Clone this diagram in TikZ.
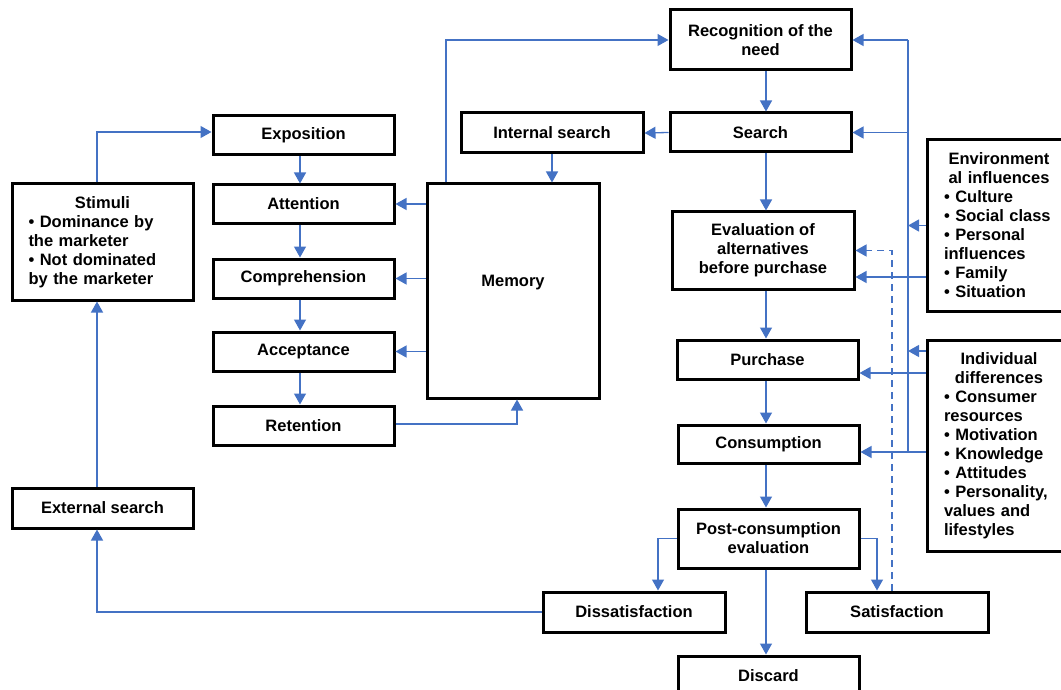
\documentclass[tikz,border=0pt]{standalone}
\usepackage{fontspec}
\setmainfont{Liberation Sans}
\usetikzlibrary{arrows.meta}
\definecolor{flow}{RGB}{68,114,196}
\begin{document}
\begin{tikzpicture}[x=1pt,y=-1pt,
  box/.style={draw=black, line width=3pt, fill=white, inner sep=0pt,
    align=center, font=\bfseries\fontsize{16.5}{19}\selectfont},
  listbox/.style={box, align=left},
  arr/.style={draw=flow, line width=1.3pt, -{Triangle[length=11pt,width=12pt]}},
  link/.style={draw=flow, line width=1.3pt},
  dashlink/.style={arr, dash pattern=on 7pt off 5pt}]
\useasboundingbox (0,0) rectangle (1061,690);

% guide columns for the vertical connectors
\coordinate (colS) at (97,0);
\coordinate (colL) at (300,0);
\coordinate (colM) at (446,0);
\coordinate (colR) at (766,0);
\coordinate (bus)  at (908,0);
\coordinate (dash) at (892,0);

% central decision chain
\node[box, minimum width=181, minimum height=60] (rec) at (760.5,40) {Recognition of the\\need};
\node[box, minimum width=181, minimum height=39] (search) at (760.5,132.5) {Search};
\node[box, minimum width=182, minimum height=77] (evalalt) at (763,250.5) {Evaluation of\\alternatives\\before purchase};
\node[box, minimum width=181, minimum height=39] (purchase) at (767.5,359.5) {Purchase};
\node[box, minimum width=181, minimum height=38] (consump) at (768.5,444) {Consumption};
\node[box, minimum width=181, minimum height=59] (postcons) at (768.5,538.5) {Post-consumption\\evaluation};
\node[box, minimum width=182, minimum height=40] (dissat) at (634,612) {Dissatisfaction};
\node[box, minimum width=182, minimum height=40] (satis) at (897,612) {Satisfaction};
\node[box, minimum width=181, minimum height=40] (discard) at (768.5,676) {Discard};

% information processing
\node[box, minimum width=182, minimum height=40] (intsearch) at (552,133) {Internal search};
\node[box, minimum width=172, minimum height=214] (mem) at (513,291) {};
\node[font=\bfseries\fontsize{16.5}{19}\selectfont, inner sep=0pt] (memtext) at (513,283) {Memory};
\node[box, minimum width=181, minimum height=39] (expo) at (303.5,135.5) {Exposition};
\node[box, minimum width=181, minimum height=38] (atten) at (303.5,204) {Attention};
\node[box, minimum width=181, minimum height=39] (compr) at (303.5,278.5) {Comprehension};
\node[box, minimum width=181, minimum height=39] (accept) at (303.5,351.5) {Acceptance};
\node[box, minimum width=181, minimum height=39] (retent) at (303.5,425.5) {Retention};

% stimuli side
\node[listbox, minimum width=181, minimum height=116, text width=148] (stimuli) at (102.5,242)
  {\makebox[\linewidth][c]{Stimuli}\\
   • Dominance by\\ the marketer\\ • Not dominated\\ by the marketer};
\node[box, minimum width=181, minimum height=40] (extsearch) at (102.5,508) {External search};

% influences
\node[listbox, minimum width=144, minimum height=171, text width=110] (env) at (999,225.5)
  {\makebox[\linewidth][c]{Environment}\\
   \makebox[\linewidth][c]{al influences}\\
   • Culture\\ • Social class\\ • Personal\\ influences\\ • Family\\ • Situation};
\node[listbox, minimum width=144, minimum height=211, text width=110] (indiv) at (999,445.5)
  {\makebox[\linewidth][c]{Individual}\\
   \makebox[\linewidth][c]{differences}\\
   • Consumer\\ resources\\ • Motivation\\ • Knowledge\\ • Attitudes\\
   • Personality,\\ values and\\ lifestyles};

% decision chain arrows
\draw[arr] (rec.south -| colR) -- (search.north -| colR);
\draw[arr] (search.south -| colR) -- (evalalt.north -| colR);
\draw[arr] (evalalt.south -| colR) -- (purchase.north -| colR);
\draw[arr] (purchase.south -| colR) -- (consump.north -| colR);
\draw[arr] (consump.south -| colR) -- (postcons.north -| colR);
\draw[arr] (postcons.south -| colR) -- (discard.north -| colR);
\draw[arr] (postcons.west) -| ([xshift=24pt]dissat.north);
\draw[arr] (postcons.east) -| ([xshift=-20pt]satis.north);
\draw[dashlink] (satis.north -| dash) |- (evalalt.east);

% search and memory
\draw[arr] (search.west) -- (intsearch.east);
\draw[arr] (intsearch.south) -- (mem.north -| intsearch.south);
\draw[arr] (mem.north -| colM) |- (rec.west);
\draw[arr] (mem.west |- atten.east) -- (atten.east);
\draw[arr] (mem.west |- compr.east) -- (compr.east);
\draw[arr] (mem.west |- accept.east) -- (accept.east);
\draw[arr] (retent.east |- 0,424) -| (mem.south -| 517,0);

% processing stages
\draw[arr] (expo.south -| colL) -- (atten.north -| colL);
\draw[arr] (atten.south -| colL) -- (compr.north -| colL);
\draw[arr] (compr.south -| colL) -- (accept.north -| colL);
\draw[arr] (accept.south -| colL) -- (retent.north -| colL);

% stimuli loop
\draw[arr] (dissat.west) -| (extsearch.south -| colS);
\draw[arr] (extsearch.north -| colS) -- (stimuli.south -| colS);
\draw[arr] (stimuli.north -| colS) |- (expo.west |- 0,132);

% influences bus
\draw[link] (bus |- rec.east) -- (bus |- 0,452);
\draw[arr] (bus |- rec.east) -- (rec.east);
\draw[arr] (bus |- search.east) -- (search.east);
\draw[arr] (env.west) -- (bus |- env.west);
\draw[arr] (env.west |- 0,277) -- (evalalt.east |- 0,277);
\draw[arr] (indiv.west |- 0,351) -- (bus |- 0,351);
\draw[arr] (indiv.west |- 0,373) -- (purchase.east |- 0,373);
\draw[arr] (indiv.west |- 0,452) -- (consump.east |- 0,452);
\end{tikzpicture}
\end{document}
